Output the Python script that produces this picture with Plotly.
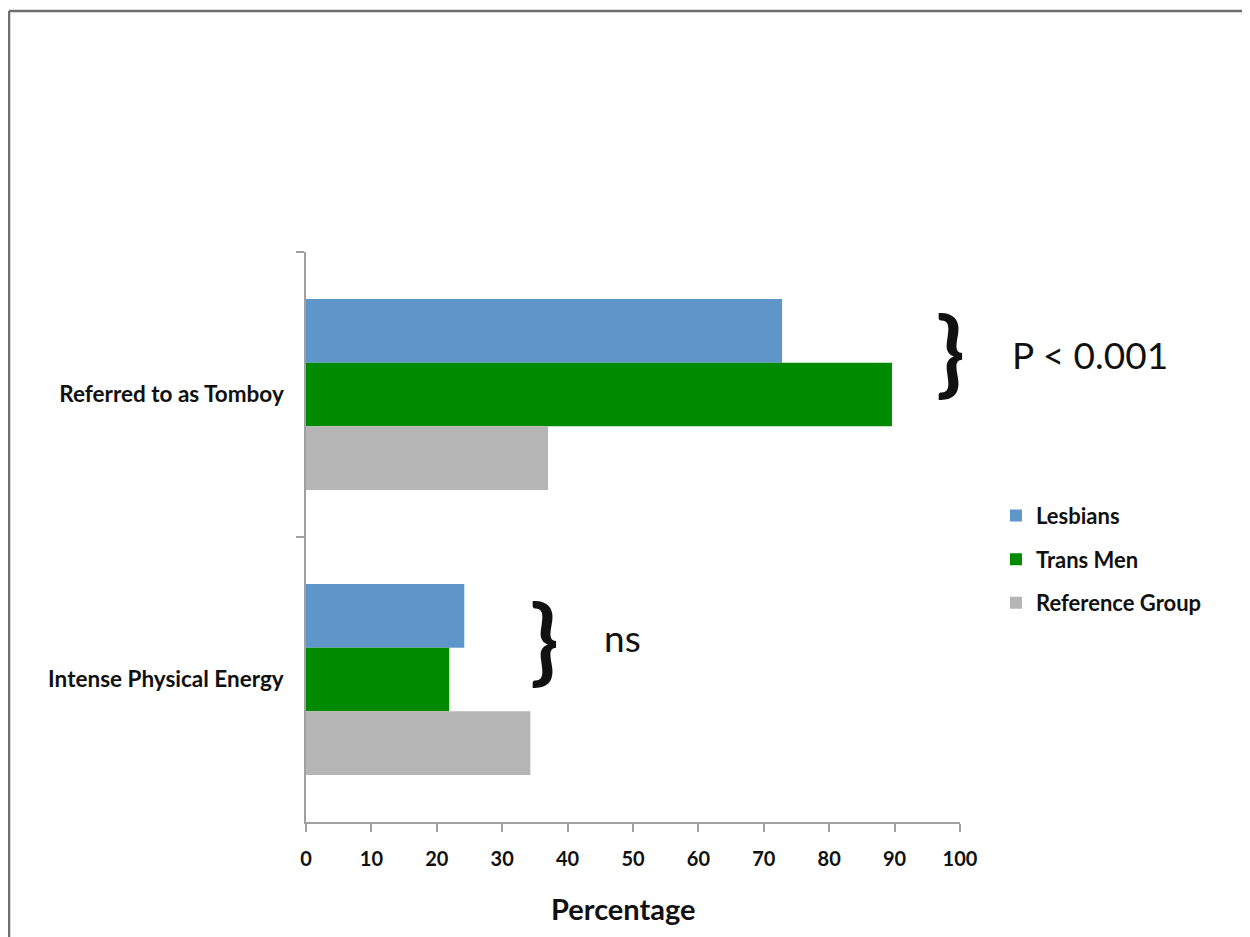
import plotly.graph_objects as go

categories = ["Referred to as Tomboy", "Intense Physical Energy"]
series_names = ["Lesbians", "Trans Men", "Reference Group"]
lesbians = [72.8, 24.2]
trans_men = [89.6, 21.9]
reference = [37.0, 34.3]
colors = ["#5F96C9", "#008A00", "#B5B5B5"]
x_ticks = [0, 10, 20, 30, 40, 50, 60, 70, 80, 90, 100]

FONT = "Lato"

fig = go.Figure()
for name, vals, col in zip(series_names, [lesbians, trans_men, reference], colors):
    fig.add_trace(go.Bar(
        y=categories, x=vals, name=name, orientation="h",
        marker=dict(color=col, line=dict(width=0)),
        legendgroup=name,
    ))

fig.update_layout(
    width=1250, height=937,
    margin=dict(l=298, r=298, t=244, b=123),
    plot_bgcolor="white", paper_bgcolor="white",
    barmode="group", bargap=0.33, bargroupgap=0,
    font=dict(family=FONT, color="#111111"),
    showlegend=True,
    legend=dict(
        x=1.055, y=0.574, xanchor="left", yanchor="top",
        traceorder="grouped", tracegroupgap=12,
        font=dict(family=FONT, size=22, color="#111111", weight="bold"),
        itemwidth=30,
    ),
    xaxis=dict(
        range=[0, 100], tickvals=x_ticks, ticktext=[str(v) for v in x_ticks],
        showgrid=False, zeroline=False,
        showline=True, linecolor="#A0A0A0", linewidth=1.5,
        ticks="outside", ticklen=8, tickcolor="#A0A0A0", tickwidth=1.5,
        ticklabelstandoff=10,
        tickfont=dict(family=FONT, size=20, color="#111111", weight="bold"),
        fixedrange=True,
    ),
    yaxis=dict(
        categoryorder="array", categoryarray=categories,
        autorange="reversed",
        showgrid=False, zeroline=False,
        showline=True, linecolor="#A0A0A0", linewidth=1.5,
        ticks="outside", ticklen=8, tickcolor="#A0A0A0", tickwidth=1.5,
        tickson="boundaries",
        ticklabelstandoff=16,
        tickfont=dict(family=FONT, size=22.5, color="#111111", weight="bold"),
        fixedrange=True,
    ),
)

# Axis title (slightly left of centre, as in the original)
fig.add_annotation(x=0.485, y=-0.151, xref="paper", yref="paper",
                   text="Percentage", showarrow=False,
                   xanchor="center", yanchor="middle",
                   font=dict(family=FONT, size=29, color="#111111", weight="bold"))

# Significance annotations
fig.add_annotation(x=98.5, y=0, xref="x", yref="y", yshift=45,
                   text="}", showarrow=False, xanchor="center", yanchor="middle",
                   font=dict(family=FONT, size=94, color="#111111", weight="bold"))
fig.add_annotation(x=1.076, y=0, xref="paper", yref="y", yshift=40,
                   text="P < 0.001", showarrow=False, xanchor="left", yanchor="middle",
                   font=dict(family=FONT, size=37, color="#111111"))
fig.add_annotation(x=36.5, y=1, xref="x", yref="y", yshift=42,
                   text="}", showarrow=False, xanchor="center", yanchor="middle",
                   font=dict(family=FONT, size=94, color="#111111", weight="bold"))
fig.add_annotation(x=45.3, y=1, xref="x", yref="y", yshift=42,
                   text="ns", showarrow=False, xanchor="left", yanchor="middle",
                   font=dict(family=FONT, size=37, color="#111111"))

# Outer frame (top and left edges)
fig.add_shape(type="line", xref="paper", yref="paper",
              x0=-0.4541, y0=1.4228, x1=1.46, y1=1.4228,
              line=dict(color="#6E6E6E", width=2.5))
fig.add_shape(type="line", xref="paper", yref="paper",
              x0=-0.4541, y0=1.4228, x1=-0.4541, y1=-0.23,
              line=dict(color="#6E6E6E", width=2.5))

fig.write_html("out.html")
